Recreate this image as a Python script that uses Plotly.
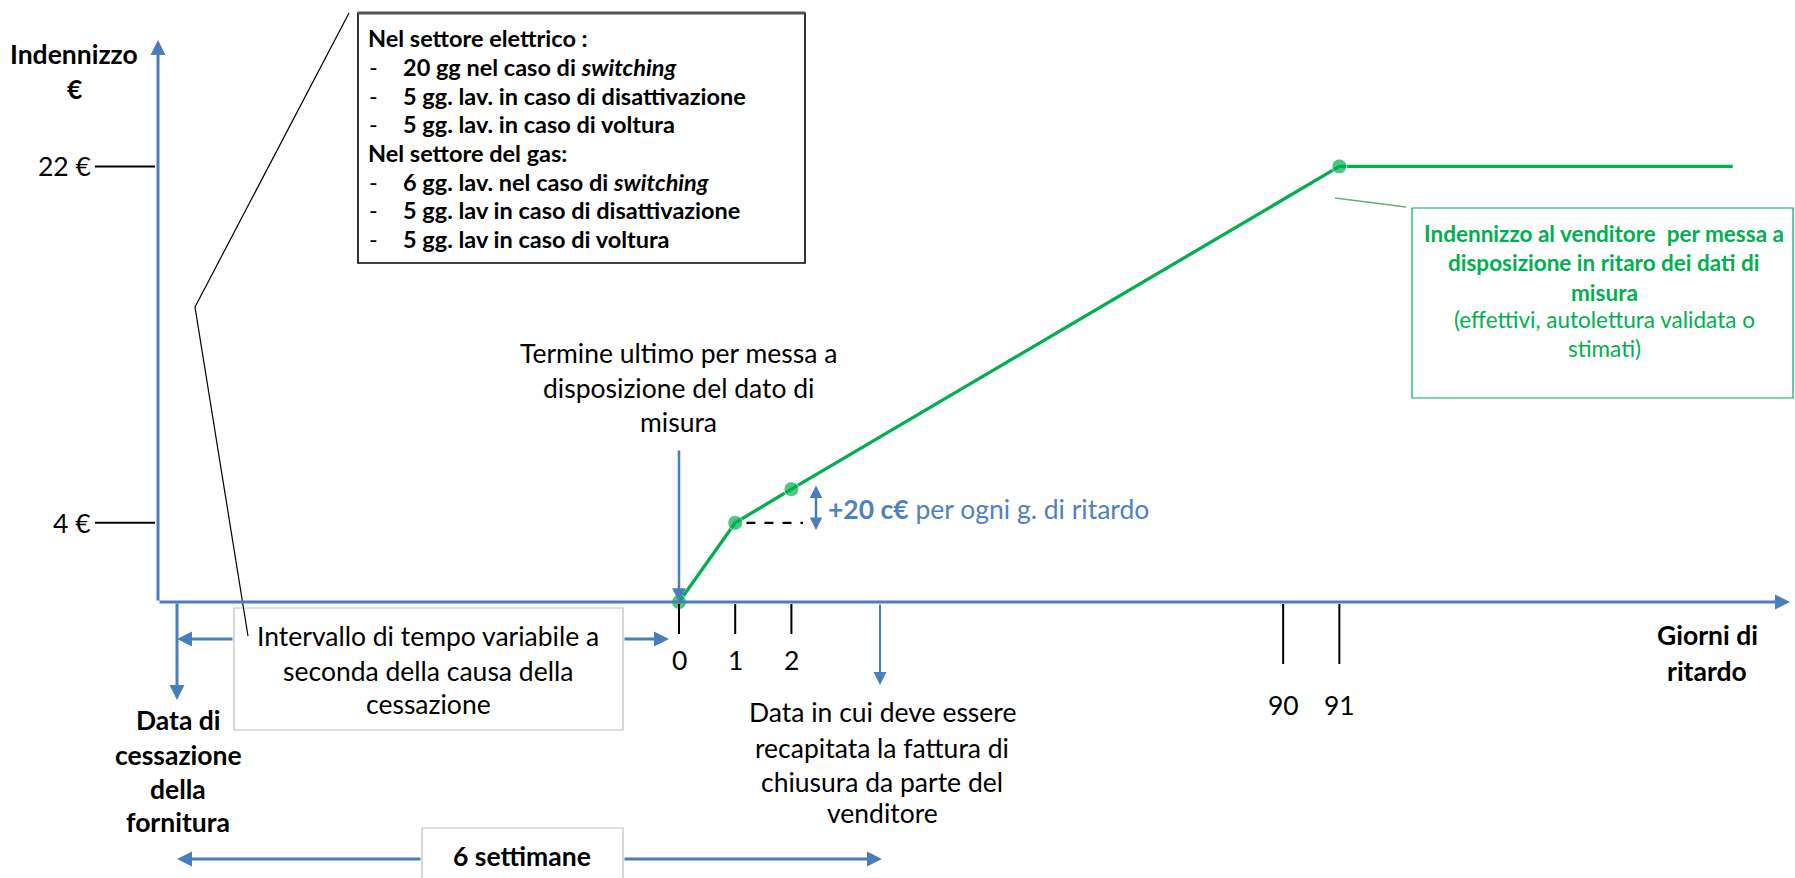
import plotly.graph_objects as go

# ---------------- data ----------------
giorni = [0, 1, 2, 91, 98]            # giorni di ritardo
indennizzo = [0, 4, 5.7, 22, 22]      # indennizzo in euro (schematico)
punti_visibili = [True, True, True, True, False]
giorni_tick = [0, 1, 2, 90, 91]
euro_tick = [4, 22]
euro_tick_text = ["4 €", "22 €"]

# ---------------- geometry ----------------
W, H = 1795, 878
X0_PX, PX_PER_UNIT = 679, 56.2
Y0_PX, PX_PER_EUR = 602, 19.8
GAP = 8.75  # broken axis between day 2 and day 90 (in day widths)


def pos(day):
    return day if day <= 2 else day - 90 + 2 + GAP


def xd(px):
    return (px - X0_PX) / PX_PER_UNIT


def yd(py):
    return (Y0_PX - py) / PX_PER_EUR


def xp(px):
    return px / W


def yp(py):
    return 1 - py / H


FONT = "Lato"
BLACK = "#000000"
BLUE = "#4A7EBB"
BLUE_TXT = "#4F81BD"
GREEN = "#00B050"
FS = 26.5      # main text size
FS_BOX = 23.5  # text inside the top box
FS_GBOX = 22.5 # text inside the green box

fig = go.Figure()

fig.add_trace(go.Scatter(
    x=[pos(d) for d in giorni], y=indennizzo, mode="lines+markers",
    line=dict(color=GREEN, width=3.3),
    marker=dict(color=GREEN, size=[15 if v else 0 for v in punti_visibili]),
    hoverinfo="skip", showlegend=False,
))

annotations = []
shapes = []


def text(x, y, t, size=FS, color=BLACK, bold=False, anchor="center"):
    if bold:
        t = "<b>" + t + "</b>"
    annotations.append(dict(
        x=xp(x), y=yp(y), xref="paper", yref="paper", text=t, showarrow=False,
        xanchor=anchor, yanchor="middle",
        font=dict(family=FONT, size=size, color=color)))


def lines(x, ys, ts, **kw):
    for y, t in zip(ys, ts):
        text(x, y, t, **kw)


def arrow(x0, y0, x1, y1, color=BLUE, width=2.5, size=1.1, both=False):
    annotations.append(dict(
        x=xd(x1), y=yd(y1), ax=xd(x0), ay=yd(y0), xref="x", yref="y",
        axref="x", ayref="y", text="", showarrow=True, arrowhead=2,
        arrowsize=size, arrowwidth=width, arrowcolor=color,
        arrowside="end+start" if both else "end", startarrowhead=2,
        startarrowsize=size))


def line(x0, y0, x1, y1, color=BLACK, width=2, dash="solid"):
    shapes.append(dict(type="line", xref="paper", yref="paper",
                       x0=xp(x0), y0=yp(y0), x1=xp(x1), y1=yp(y1),
                       line=dict(color=color, width=width, dash=dash)))


def rect(x0, y0, x1, y1, color, width=1, layer="below"):
    shapes.append(dict(type="rect", xref="paper", yref="paper",
                       x0=xp(x0), y0=yp(y0), x1=xp(x1), y1=yp(y1),
                       line=dict(color=color, width=width), fillcolor="white",
                       layer=layer))


# boxes
rect(358, 13, 805, 263, BLACK, 1.6)
line(358, 13, 805, 13, color="#555555", width=3)
rect(234, 608, 623, 730, "#BFBFBF", 1.2)
rect(422, 828, 623, 900, "#BFBFBF", 1.2)
rect(1412, 208, 1793, 398, GREEN, 1.2)

# callout line from box to "Intervallo"
shapes.append(dict(type="path", xref="paper", yref="paper",
                   path=f"M {xp(349)} {yp(13)} L {xp(195)} {yp(307)} L {xp(248)} {yp(636)}",
                   line=dict(color=BLACK, width=1.2)))
# green callout
line(1335, 198, 1406, 207, color="#5FAF80", width=1.5)

# y ticks (through y scale)
for v, t in zip(euro_tick, euro_tick_text):
    shapes.append(dict(type="line", xref="paper", yref="y", x0=xp(95), x1=xp(155),
                       y0=v, y1=v, line=dict(color=BLACK, width=2)))
    annotations.append(dict(x=xp(93), y=v, xref="paper", yref="y", text=t,
                            showarrow=False, xanchor="right", yanchor="middle",
                            font=dict(family=FONT, size=FS, color=BLACK)))

# x ticks (through x scale)
for d in giorni_tick:
    lo = 634 if d <= 2 else 664
    lab = 660 if d <= 2 else 705
    shapes.append(dict(type="line", xref="x", yref="paper", x0=pos(d), x1=pos(d),
                       y0=yp(604), y1=yp(lo), line=dict(color=BLACK, width=2)))
    annotations.append(dict(x=pos(d), y=yp(lab), xref="x", yref="paper", text=str(d),
                            showarrow=False, xanchor="center", yanchor="middle",
                            font=dict(family=FONT, size=FS, color=BLACK)))

# dashed reference at day-1 level
shapes.append(dict(type="line", xref="x", yref="y", x0=pos(giorni[1]) + 0.2, x1=xd(803),
                   y0=indennizzo[1], y1=indennizzo[1],
                   line=dict(color=BLACK, width=2.2, dash="dash")))

# axes arrows
arrow(158, 602, 158, 40, width=3, size=1.0)
arrow(158, 602, 1790, 602, width=3, size=1.0)
# other arrows
arrow(177, 602, 177, 700, width=3, size=1.0)
arrow(679, 449, 679, 602, width=2.5, size=1.1)
arrow(880, 603, 880, 685, width=2, size=1.3)
arrow(234, 639, 177, 639, width=3, size=1.0)
arrow(623, 639, 669, 639, width=3, size=1.0)
arrow(422, 859, 177, 859, width=3, size=1.0)
arrow(623, 859, 882, 859, width=3, size=1.0)
arrow(816, 484, 816, 530, width=2.5, size=1.0, both=True)

# texts
lines(74, [54, 89], ["Indennizzo", "€"], bold=True)
lines(366, [38], ["Nel settore elettrico :"], bold=True, size=FS_BOX, anchor="left")
lines(366, [153], ["Nel settore del gas:"], bold=True, size=FS_BOX, anchor="left")
items = [(67, "20 gg nel caso di <i>switching</i>"),
         (96, "5 gg. lav. in caso di disattivazione"),
         (124, "5 gg. lav. in caso di voltura"),
         (182, "6 gg. lav. nel caso di <i>switching</i>"),
         (210, "5 gg. lav in caso di disattivazione"),
         (239, "5 gg. lav in caso di voltura")]
for y, t in items:
    text(367, y, "-", size=FS_BOX, anchor="left")
    text(401, y, t, size=FS_BOX, bold=True, anchor="left")

lines(678, [353, 388, 422], ["Termine ultimo per messa a", "disposizione del dato di", "misura"])
text(826, 509, "<b>+20 c€</b> per ogni g. di ritardo", color=BLUE_TXT, anchor="left")
lines(1604, [233, 262, 292], ["Indennizzo al venditore  per messa a", "disposizione in ritaro dei dati di", "misura"],
      size=FS_GBOX, bold=True, color=GREEN)
lines(1604, [319, 348], ["(effettivi, autolettura validata o", "stimati)"], size=FS_GBOX, color=GREEN)
lines(428, [636, 671, 704], ["Intervallo di tempo variabile a", "seconda della causa della", "cessazione"])
lines(178, [720, 755, 789, 822], ["Data di", "cessazione", "della", "fornitura"], bold=True)
lines(882, [712, 748, 782, 813], ["Data in cui deve essere", "recapitata la fattura di",
                                   "chiusura da parte del", "venditore"])
text(522, 856, "6 settimane", bold=True)
lines(1707, [635, 671], ["Giorni di", "ritardo"], bold=True)

fig.update_layout(
    width=W, height=H, autosize=False,
    margin=dict(l=0, r=0, t=0, b=0),
    paper_bgcolor="white", plot_bgcolor="white",
    xaxis=dict(range=[xd(0), xd(W)], visible=False, fixedrange=True),
    yaxis=dict(range=[yd(H), yd(0)], visible=False, fixedrange=True),
    annotations=annotations, shapes=shapes, showlegend=False,
)

fig.write_html("out.html", config={"displayModeBar": False},
               post_script="document.body.style.margin='0';document.body.style.overflow='hidden';")
